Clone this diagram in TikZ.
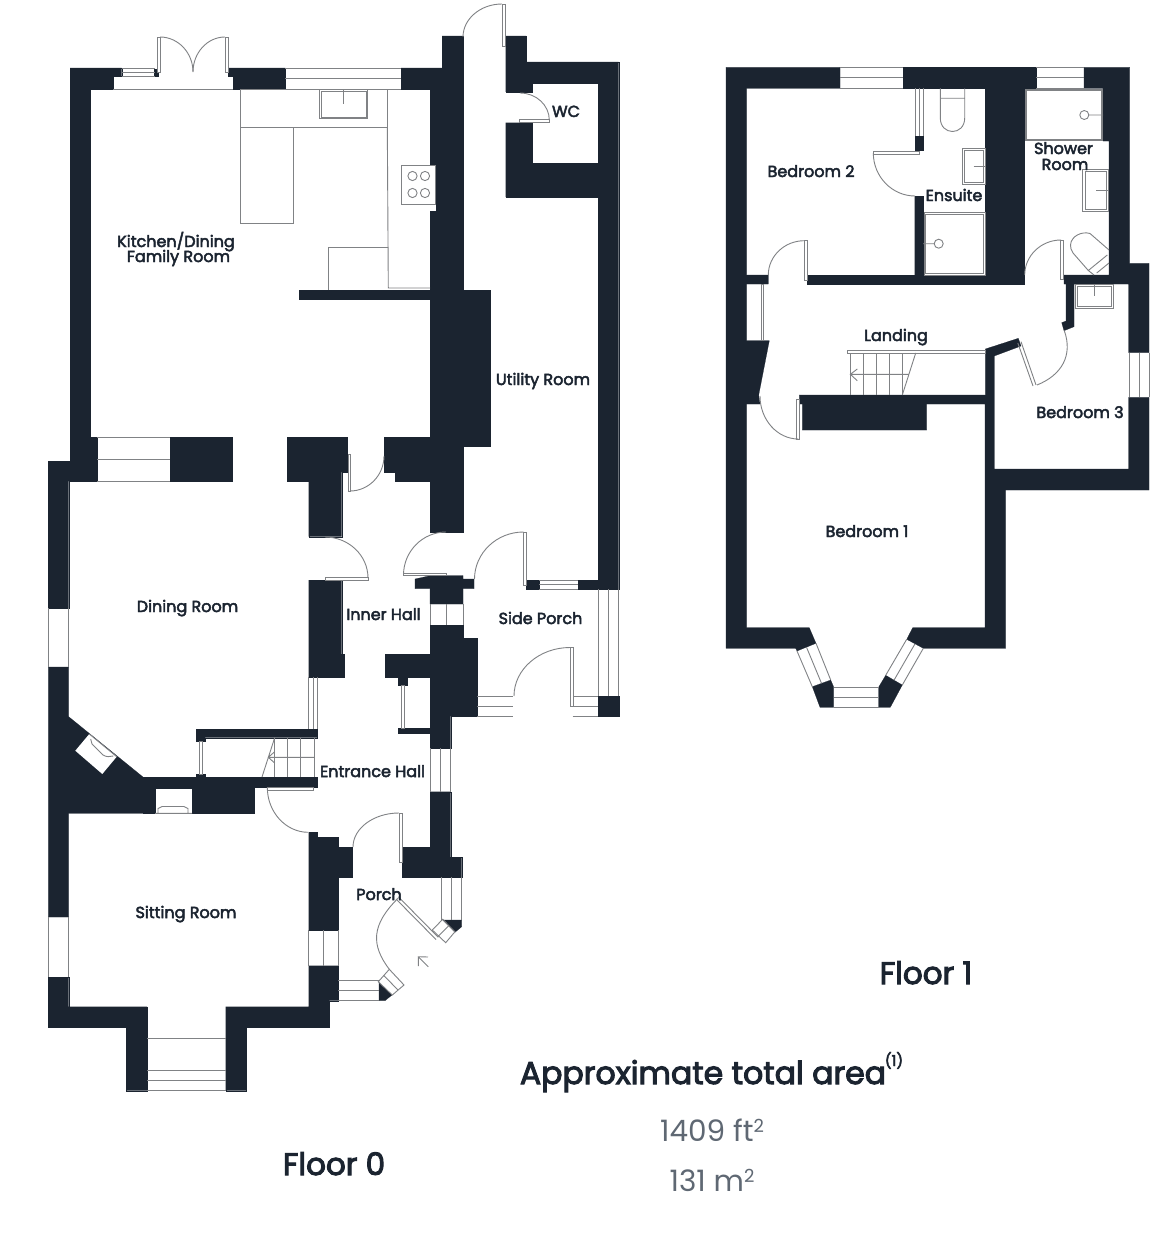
\documentclass[tikz,border=0pt]{standalone}
\usepackage{fontspec}
\setmainfont{Poppins}
\newfontfamily\lblfont{Poppins}[FakeBold=3]
\newfontfamily\bigfont{Poppins}[FakeBold=3.2]
\definecolor{wallc}{HTML}{1B2430}
\definecolor{linec}{HTML}{808285}
\definecolor{areac}{HTML}{5F6873}
\newcommand\swing[4]{\draw[gl] (#1,#2) .. controls ({#1+.55*(#3-#1)},#2) and (#3,{#4-.55*(#4-#2)}) .. (#3,#4);}
\newcommand\leaf[4]{\draw[gl,fill=white,line width=.8pt] (#1,#2) rectangle (#3,#4);}
\newcommand\winH[4]{\draw[gl] (#1,#2) -- (#3,#2) (#1,#4) -- (#3,#4) (#1,{(#2+#4)/2}) -- (#3,{(#2+#4)/2});}
\newcommand\winV[4]{\draw[gl] (#1,#2) -- (#1,#4) (#3,#2) -- (#3,#4) ({(#1+#3)/2},#2) -- ({(#1+#3)/2},#4);}
\tikzset{
  wall/.style={fill=wallc,draw=wallc,line width=.2pt},
  gl/.style={draw=linec,line width=.9pt},
  lbl/.style={anchor=base,inner sep=0pt,text=wallc,font=\lblfont\fontsize{16}{17}\selectfont},
  big/.style={anchor=base,inner sep=0pt,text=wallc,font=\bigfont\fontsize{31}{34}\selectfont},
  areatxt/.style={anchor=base,inner sep=0pt,text=areac,font=\fontsize{29.5}{32}\selectfont},
}
\begin{document}
\begin{tikzpicture}[x=1pt,y=-1pt]
\useasboundingbox (0,0) rectangle (1160,1244);
\fill[white] (0,0) rectangle (1160,1244);
% ===== FLOOR 0 walls
\fill[wall] (70,68)--(121.7,68)--(121.7,76)--(113.3,76)--(113.3,89)--(90.3,89)--(90.3,437)--(97,437)--(97,481)--(68.7,481)--(68.7,608)--(48.3,608)--(48.3,461)--(70,461)--cycle;
\fill[wall] (48.3,667)--(68.7,667)--(68.7,716.7)--(143,777)--(143,813.3)--(68.7,813.3)--(68.7,917)--(48.3,917)--cycle;
\fill[wall] (143,777)--(317.3,777)--(317.3,787)--(254,787)--(254,813.3)--(192,813.3)--(192,788)--(155,788)--(155,813.3)--(143,813.3)--cycle;
\fill[wall] (48.3,977)--(68.7,977)--(68.7,1006.7)--(147,1006.7)--(147,1090.7)--(126.3,1090.7)--(126.3,1027)--(48.3,1027)--cycle;
\fill[wall] (225.7,1006.7)--(308.7,1006.7)--(308.7,965.7)--(338.3,965.7)--(338.3,1000.7)--(329.3,1000.7)--(329.3,1027)--(246.3,1027)--(246.3,1090.7)--(225.7,1090.7)--cycle;
\fill[wall] (308.7,832.3)--(317,832.3)--(317,837)--(338.3,837)--(338.3,847.3)--(352.3,847.3)--(352.3,877.3)--(338.3,877.3)--(338.3,930)--(308.7,930)--cycle;
\fill[wall] (170,437) rectangle (232,481);
\fill[wall] (228.3,68)--(285.3,68)--(285.3,89)--(233,89)--(233,76)--(228.3,76)--cycle;
\fill[wall] (154.3,69) rectangle (158,76);
\fill[wall] (401,68)--(442,68)--(442,36)--(463,36)--(463,290)--(490.5,290)--(490.5,446)--(463,446)--(463,532)--(430,532)--(430,481)--(395,481)--(395,472)--(384,472)--(384,437)--(430,437)--(430,299)--(299,299)--(299,290)--(430,290)--(430,89)--(401,89)--cycle;
\fill[wall] (505.7,36)--(526,36)--(526,62)--(618.7,62)--(618.7,589)--(578,589)--(578,580)--(598.3,580)--(598.3,197)--(505.7,197)--(505.7,122.7)--(532.3,122.7)--(532.3,163.5)--(598.3,163.5)--(598.3,83)--(532.3,83)--(532.3,92)--(505.7,92)--cycle;
\fill[wall] (526,580) rectangle (539,589);
\fill[wall] (415,579)--(431,575.5)--(463,575.5)--(463,579)--(474,579)--(474,588.7)--(463,588.7)--(463,604)--(430,604)--(430,588.7)--(415,588.7)--cycle;
\fill[wall] (430,625)--(463,625)--(463,638)--(477.3,638)--(477.3,716)--(450.7,716)--(450.7,748)--(430,748)--(430,733)--(398,733)--(398,728)--(430,728)--(430,677)--(407,677)--(407,685)--(398,685)--(398,677)--(385.3,677)--(385.3,654)--(430,654)--cycle;
\fill[wall] (430,791.7)--(450.7,791.7)--(450.7,857)--(461.7,857)--(461.7,877.3)--(402.3,877.3)--(402.3,847.3)--(430,847.3)--cycle;
\fill[wall] (287.3,437)--(347.3,437)--(347.3,472)--(341.7,472)--(341.7,536.7)--(308.7,536.7)--(308.7,481)--(287.3,481)--cycle;
\fill[wall] (308.7,580)--(341.7,580)--(341.7,654)--(344.3,654)--(344.3,677)--(308.7,677)--cycle;
\fill[wall] (196,729)--(317.3,729)--(317.3,737.7)--(205,737.7)--(205,741.5)--(196,741.5)--cycle;
\fill[wall] (196,774) rectangle (205,777);
\fill[wall] (598.3,696) rectangle (618.7,716);
\fill[wall] (379,982.7)--(392,995)--(385,1000.7)--(379,1000.7)--cycle;
\fill[wall] (442.7,920)--(461.7,920)--(461.7,926.7)--(455,932.3)--cycle;
% windows floor 0
\draw[gl] (121.7,68)--(155,68) (121.7,76)--(155,76) (121.7,72)--(155,72);
\draw[gl] (113.3,89)--(233,89);
\winH{285.3}{68}{401}{89}
\draw[gl] (97,437)--(170,437) (97,459)--(170,459) (97,481)--(170,481);
\draw[gl] (48.3,608)--(48.3,667) (68.7,608)--(68.7,667);
\draw[gl] (48.3,917)--(48.3,977) (68.7,917)--(68.7,977);
\draw[gl] (147,1038.7)--(225.7,1038.7) (147,1070.3)--(225.7,1070.3) (147,1080.3)--(225.7,1080.3) (147,1090.7)--(225.7,1090.7);
\winV{308.7}{930}{338.3}{965.7}
\winH{338.3}{980}{379}{1000.7}
\winV{441}{877.3}{461.7}{920}
\winV{430}{748}{450.7}{791.7}
\winH{539}{580}{578}{589}
\draw[gl] (430,604)--(430,625) (446.5,604)--(446.5,625) (463,604)--(463,625);
\winV{598.3}{589}{618.7}{696}
\winH{572.7}{696}{598.3}{716}
\winH{477.3}{696}{513.3}{716}
\winV{308.7}{677}{317.3}{729}
% diagonal porch windows
\draw[gl] (389.3,969.3)--(404,985)--(392.3,995)--(378.3,981.7)--cycle (383.8,975.5)--(398,990);
\draw[gl] (432.3,930)--(442.7,919.3)--(455,931.7)--(445.7,942.7)--cycle (438,936.5)--(449,925.5);
\draw[gl] (398.3,896.7)--(438.3,937.3) (396,899)--(436,939.5);
% doors floor 0
\leaf{157.7}{37}{160}{72}\leaf{225}{37}{228}{72}\swing{160}{37}{193}{72}\swing{225}{37}{193}{72}
\leaf{502.7}{4}{505}{46}\swing{502}{4}{463}{37}
\leaf{519}{119.5}{549.5}{122.5}\swing{520}{93}{549.3}{120}
\leaf{348}{454}{350.5}{491}\swing{350}{491}{384}{456}
\leaf{325}{577}{368}{580}\swing{325}{537}{368}{578}
\leaf{403.5}{573}{446.5}{575.5}\swing{446}{532}{403.5}{575}
\leaf{523.3}{532}{526}{585}\swing{523.5}{532}{474.5}{579}
\leaf{570}{647.5}{573}{706}\swing{570}{647.5}{514}{696}
\leaf{399}{813}{402}{862}\swing{399}{813}{353}{847}
\leaf{267.3}{787}{313.3}{790}\swing{308.3}{832.3}{267.3}{787.3}
\leaf{401}{685}{404}{728}\leaf{199}{741.5}{202}{774}
\draw[gl] (398.3,898) .. controls (371,925) and (371,945) .. (389.3,969.3);
% kitchen
\draw[gl] (240.5,89) rectangle (387.3,127);
\draw[gl] (240.5,127) rectangle (293.7,223.3);
\draw[gl] (319.5,89.5) rectangle (367.7,118.5) (321.5,91) rectangle (366,117) (343.7,90)--(343.7,104);
\draw[gl] (387.3,127)--(388.3,288)--(430,288);
\draw[gl] (328.7,290)--(328.7,247)--(387.5,247);
\fill[white] (430,165) rectangle (435.7,211);
\draw[gl] (435.7,165)--(401.7,165)--(401.7,204)--(435.7,204)--cycle;
\draw[gl] (412.5,176) circle[radius=4.6] (425,176) circle[radius=4.6] (412.5,193) circle[radius=4.6] (425,193) circle[radius=4.6];
% fireplaces
\fill[white] (89.3,734)--(116.7,756.7)--(102.3,774)--(75.3,750.7)--cycle;
\draw[gl] (89.3,734)--(116.7,756.7);
\draw[gl] (90.7,739)--(92,744)--(103,755)..controls (106,757) and (110,757)..(113.3,756);
\draw[gl] (155,813.3)--(192,813.3) (158,813)--(158,808.5)--(162,806.5)--(184,806.5)--(188,808.5)--(188,813);
% stairs floor 0
\draw[gl] (274.7,737.7)--(274.7,777) (287.7,737.7)--(287.7,777) (300.3,737.7)--(300.3,777) (314,737.7)--(314,777);
\draw[gl] (268.3,757.3)--(314,757.3) (274.7,737.7)--(262,777) (274.7,751.7)--(268.3,757.3)--(274.7,763);
% entry arrow
\draw[gl] (428.3,966.7)--(418.3,956.7) (428,957)--(418.3,956.7)--(418.3,966);
% ===== FLOOR 1 walls
\fill[wall] (726,67.3)--(840,67.3)--(840,88.3)--(746.7,88.3)--(746.7,275)--(768.3,275)--(768.3,284)--(746.7,284)--(746.7,340.7)--(769.3,340.7)--(758.7,395)--(760,404)--(746.7,404)--(746.7,627.7)--(809.3,627.7)--(816,643.3)--(797,651)--(795.7,648.3)--(726,648.3)--cycle;
\fill[wall] (903.3,67.3)--(1036,67.3)--(1036,88.3)--(1024,88.3)--(1024,284)--(807.3,284)--(807.3,275)--(914.7,275)--(914.7,196)--(923,196)--(923,275)--(985,275)--(985,88.3)--(903.3,88.3)--cycle;
\fill[wall] (1084,67.3)--(1129.7,67.3)--(1129.7,263.3)--(1149,263.3)--(1149,352.7)--(1128.7,352.7)--(1128.7,284)--(1074,284)--(1074,318.3)--(1074,326.7)--(1064,330.7)--(1061.7,322.7)--(1066,321)--(1066,284)--(1064,284)--(1064,275)--(1109,275)--(1109,141)--(1103,141)--(1103,88.3)--(1084,88.3)--cycle;
\fill[wall] (1128.7,397.3)--(1149,397.3)--(1149,490)--(1005.7,490)--(1005.7,648.3)--(923.3,648.3)--(906.7,639.3)--(912.7,627.7)--(985,627.7)--(985,404)--(926.7,404)--(926.7,430)--(802.3,430)--(802.3,404)--(799.3,404)--(799.3,395)--(985.3,395)--(985.3,349)--(1018.3,338.3)--(1021,346)--(994.3,356)--(994.3,469)--(1128.7,469)--cycle;
\fill[wall] (812.3,686.7)--(830.7,680)--(833.7,687)--(833.7,707.3)--(820,707.3)--cycle;
\fill[wall] (878.7,687)--(885.7,675.3)--(902.3,685)--(890.3,707.3)--(878.7,707.3)--cycle;
\fill[wall] (915,136) rectangle (923,150);
% windows floor 1
\winH{840}{67.3}{903.3}{88.3}
\winH{1036}{67.3}{1084}{88.3}
\winV{1129}{352.7}{1149}{397.3}
\winV{915}{88.3}{923}{136}
\draw[gl] (797,651)--(812.3,686.7) (816,643.3)--(830.7,680) (806.5,647.2)--(821.5,683.3);
\draw[gl] (906.7,639.3)--(885.7,675.3) (923.3,648.3)--(902.3,685) (915,643.8)--(894,680.2);
\draw[gl] (833.7,687)--(878.7,687) (833.7,697)--(878.7,697) (833.7,707.3)--(878.7,707.3);
% doors floor 1
\leaf{873.3}{151}{919}{154}\swing{915}{196}{873.3}{153}
\leaf{804.3}{240.7}{807.3}{280}\swing{804.3}{240.7}{768.3}{275}
\leaf{1060.7}{240}{1063.7}{279.3}\swing{1061}{240}{1024.7}{275}
\leaf{796.7}{399.3}{799.7}{439}\swing{798.3}{439}{760}{396}
\leaf{761.3}{284}{763.7}{340.5}
\draw[gl] (1021,341.7)--(1036,385) (1017.8,343)--(1033,386) (1037,385) .. controls (1062,375) and (1073,355) .. (1064.3,330.7);
% bathroom fittings
\draw[gl] (940.3,88.3)--(940.3,118) .. controls (940.3,136) and (964.7,136) .. (964.7,118)--(964.7,88.3) (940.3,98.3)--(964.7,98.3);
\draw[gl] (962,148.3) rectangle (985,184) (964,150.3) rectangle (983,182) (973.7,166)--(985,166);
\draw[gl] (924,212.7) rectangle (985,275) (925.7,214.5) rectangle (983.5,273.5);
\draw[gl] (938.7,243.7) circle[radius=4.5] (923,243.7)--(934.2,243.7);
\draw[gl] (1025,89.3) rectangle (1102.7,140.5) (1026.7,90.8) rectangle (1101,139);
\draw[gl] (1084.3,115) circle[radius=4.5] (1088.8,115)--(1103,115);
\draw[gl] (1082.7,169) rectangle (1108.7,211.7) (1085,171) rectangle (1106,209.5) (1096,190)--(1109,190);
\draw[gl] (1109,250)--(1090,233.5) .. controls (1082,231) and (1071,236) .. (1070.5,245) .. controls (1070.5,248) and (1071,250) .. (1073,253)--(1088.3,270.5)--(1094,275) (1088.3,270.5)--(1107.3,255) (1096.7,273)--(1109,263);
\draw[gl] (1075,284) rectangle (1113.3,308.3) (1077,286) rectangle (1111,306) (1094,284)--(1094,296);
% stairs floor 1
\leaf{847.3}{350}{985}{353}
\draw[gl] (850.3,353)--(850.3,395) (863.3,353)--(863.3,395) (876.3,353)--(876.3,395) (889.3,353)--(889.3,395) (902.3,353)--(902.3,395);
\draw[gl] (915.7,353)--(902.3,395) (850.3,374.3)--(909,374.3) (857.3,369)--(850.3,374.3)--(857.3,380.7);
% ===== texts
\node[lbl] (t1) at (176,247) {Kitchen/Dining};
\node[lbl] (t2) at (178.5,262) {Family Room};
\node[lbl] (t3) at (566,117) {WC};
\node[lbl] (t4) at (543,385) {Utility Room};
\node[lbl] (t5) at (187.5,612) {Dining Room};
\node[lbl] (t6) at (383.5,620) {Inner Hall};
\node[lbl] (t7) at (540.5,624) {Side Porch};
\node[lbl] (t8) at (372.5,777) {Entrance Hall};
\node[lbl] (t9) at (379,900) {Porch};
\node[lbl] (t10) at (186,918) {Sitting Room};
\node[lbl] (t11) at (811,177) {Bedroom 2};
\node[lbl] (t12) at (954,201) {Ensuite};
\node[lbl] (t13) at (1063.5,154) {Shower};
\node[lbl] (t14) at (1065,170) {Room};
\node[lbl] (t15) at (896,341) {Landing};
\node[lbl] (t16) at (1080,418) {Bedroom 3};
\node[lbl] (t17) at (867,537) {Bedroom 1};
\node[big] (f1) at (926,984) {Floor 1};
\node[big] (f0) at (334,1175) {Floor 0};
\node[big,font=\bigfont\fontsize{31.5}{36}\selectfont] (a0) at (703,1084) {Approximate total area};
\node[big,font=\lblfont\fontsize{15}{17}\selectfont] (a1) at (894,1066) {(1)};
\node[areatxt] (a2) at (712,1141) {1409 ft{\raisebox{9pt}{\fontsize{18}{20}\selectfont 2}}};
\node[areatxt] (a3) at (712,1191) {131 m{\raisebox{9pt}{\fontsize{18}{20}\selectfont 2}}};
\end{tikzpicture}
\end{document}
